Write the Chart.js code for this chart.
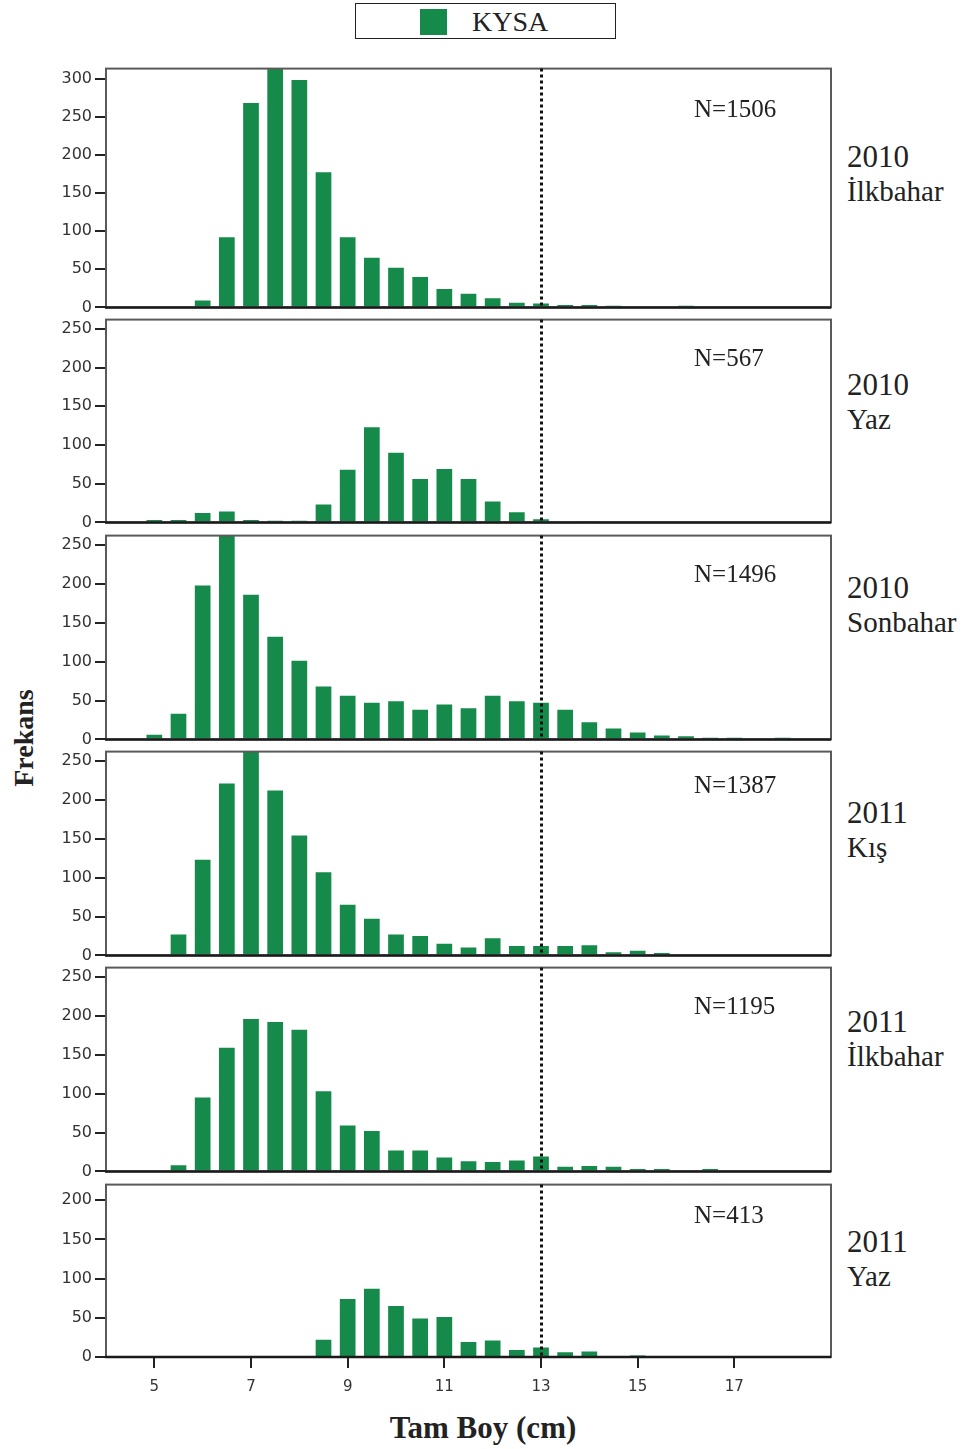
<!DOCTYPE html>
<html>
<head>
<meta charset="utf-8">
<title>KYSA boy frekansları</title>
<script src="https://cdn.jsdelivr.net/npm/chart.js@4.4.1/dist/chart.umd.min.js"></script>
<style>
  body { margin: 0; background: #fff; }
  #page { position: relative; width: 961px; height: 1449px; font-family: "Liberation Serif", "Times New Roman", serif; color: #222; }
  #page canvas { position: absolute; left: 0; }
  .legend { position: absolute; left: 355px; top: 3px; width: 259px; height: 34px; border: 1.5px solid #222; }
  .legend .swatch { position: absolute; left: 64px; top: 5px; width: 27px; height: 26px; background: rgb(22, 138, 74); }
  .legend .label { position: absolute; left: 116px; top: 0; line-height: 36px; font-size: 28px; }
  .season { position: absolute; left: 847px; font-size: 29px; line-height: 34px; }
  .season .year { font-size: 31px; }
  .ytitle { position: absolute; left: 24px; top: 738px; transform: translate(-50%, -50%) rotate(-90deg); font-weight: bold; font-size: 28px; white-space: nowrap; }
  .xtitle { position: absolute; left: 483px; top: 1428px; transform: translate(-50%, -50%); font-weight: bold; font-size: 31px; white-space: nowrap; }
</style>
</head>
<body>
<div id="page">
  <div class="legend"><div class="swatch"></div><div class="label">KYSA</div></div>
  <div class="ytitle">Frekans</div>
  <div class="xtitle">Tam Boy (cm)</div>
</div>
<script>
// length classes (cm), bar centres
const lengthBins = [5, 5.5, 6, 6.5, 7, 7.5, 8, 8.5, 9, 9.5, 10, 10.5, 11, 11.5, 12, 12.5, 13, 13.5, 14, 14.5, 15, 15.5, 16, 16.5, 17, 17.5, 18];

// frequencies per length class, one array per season
const spring2010 = [0, 0, 9, 92, 268, 330, 298, 177, 92, 65, 52, 40, 24, 18, 12, 6, 5, 3, 3, 2, 0, 0, 2, 0, 0, 0, 0];
const summer2010 = [3, 3, 12, 14, 3, 2, 2, 23, 68, 123, 90, 56, 69, 56, 27, 13, 4, 0, 1, 0, 0, 0, 0, 0, 0, 0, 0];
const autumn2010 = [6, 33, 198, 268, 186, 132, 101, 68, 56, 47, 49, 38, 45, 40, 56, 49, 47, 38, 22, 14, 9, 5, 4, 2, 2, 0, 2];
const winter2011 = [1, 27, 123, 221, 268, 212, 154, 107, 65, 47, 27, 25, 15, 10, 22, 12, 12, 12, 13, 4, 6, 3, 1, 0, 0, 1, 0];
const spring2011 = [0, 8, 95, 159, 196, 192, 182, 103, 59, 52, 27, 27, 18, 13, 12, 14, 19, 6, 7, 6, 3, 3, 0, 3, 0, 0, 0];
const summer2011 = [0, 0, 0, 0, 0, 0, 0, 22, 74, 87, 65, 49, 51, 19, 21, 9, 12, 6, 7, 0, 2, 0, 1, 1, 0, 0, 0];

const sampleSizes = [1506, 567, 1496, 1387, 1195, 413];
const seasonYears = ["2010", "2010", "2010", "2011", "2011", "2011"];
const seasonNames = ["İlkbahar", "Yaz", "Sonbahar", "Kış", "İlkbahar", "Yaz"];
const xTickValues = [5, 7, 9, 11, 13, 15, 17];
const yMaxima = [313, 262, 262, 262, 262, 220];
const lengthLimit = 13;

const seasonSeries = [spring2010, summer2010, autumn2010, winter2011, spring2011, summer2011];

// pixel boxes of the plot areas on the page
const panelBoxes = [
  { top: 68, bottom: 308, nOffset: 42, labelY: 157 },
  { top: 319, bottom: 523, nOffset: 40, labelY: 385 },
  { top: 535, bottom: 740, nOffset: 40, labelY: 588 },
  { top: 751, bottom: 956, nOffset: 35, labelY: 813 },
  { top: 967, bottom: 1172, nOffset: 40, labelY: 1022 },
  { top: 1184, bottom: 1357, nOffset: 32, labelY: 1242 },
];

const BAR_GREEN = "rgb(22, 138, 74)";
const PAD_TOP = 12;
const PLOT_LEFT = 106;
const PLOT_RIGHT = 831;
const CANVAS_W = 845;

// frame, zero line, dotted 13 cm marker and sample size
const panelDecor = {
  id: "panelDecor",
  afterDatasetsDraw(chart, args, opts) {
    const { ctx, chartArea: a, scales: { x, y } } = chart;
    ctx.save();
    ctx.strokeStyle = "#5a5a5a";
    ctx.lineWidth = 2;
    ctx.strokeRect(a.left, a.top, a.width, a.height);

    const y0 = y.getPixelForValue(0);
    ctx.strokeStyle = "#1a1a1a";
    ctx.lineWidth = 2.5;
    ctx.beginPath();
    ctx.moveTo(a.left - 1, y0);
    ctx.lineTo(a.right, y0);
    ctx.stroke();

    const lx = Math.round(x.getPixelForValue(lengthLimit)) + 0.5;
    ctx.strokeStyle = "#111";
    ctx.lineWidth = 3;
    ctx.setLineDash([3, 3]);
    ctx.beginPath();
    ctx.moveTo(lx, a.top);
    ctx.lineTo(lx, a.bottom);
    ctx.stroke();
    ctx.setLineDash([]);

    ctx.font = '25px "Liberation Serif", serif';
    ctx.fillStyle = "#222";
    ctx.textAlign = "left";
    ctx.textBaseline = "middle";
    ctx.fillText("N=" + opts.n, a.right - 137, a.top + opts.nOffset);
    ctx.restore();
  },
};

const page = document.getElementById("page");

seasonSeries.forEach((series, i) => {
  const box = panelBoxes[i];
  const isLast = i === seasonSeries.length - 1;
  const bottomRoom = isLast ? 45 : 12;
  const plotH = box.bottom - box.top;

  const canvas = document.createElement("canvas");
  canvas.width = CANVAS_W;
  canvas.height = plotH + PAD_TOP + bottomRoom;
  canvas.style.top = (box.top - PAD_TOP) + "px";
  page.appendChild(canvas);

  const label = document.createElement("div");
  label.className = "season";
  label.style.top = (box.labelY - 17) + "px";
  label.innerHTML = '<span class="year">' + seasonYears[i] + "</span><br>" + seasonNames[i];
  page.appendChild(label);

  new Chart(canvas.getContext("2d"), {
    type: "bar",
    data: {
      datasets: [{
        label: "KYSA",
        data: lengthBins.map((len, k) => ({ x: len, y: series[k] })),
        backgroundColor: BAR_GREEN,
        borderWidth: 0,
        barPercentage: 0.65,
        categoryPercentage: 1,
      }],
    },
    options: {
      responsive: false,
      animation: false,
      events: [],
      layout: { padding: { top: PAD_TOP, right: CANVAS_W - PLOT_RIGHT, bottom: isLast ? 0 : bottomRoom, left: 0 } },
      plugins: {
        legend: { display: false },
        tooltip: { enabled: false },
        panelDecor: { n: sampleSizes[i], nOffset: box.nOffset },
      },
      scales: {
        x: {
          type: "linear",
          min: 4,
          max: 19,
          offset: false,
          display: isLast,
          afterBuildTicks: (s) => { s.ticks = xTickValues.map((v) => ({ value: v })); },
          afterFit: (s) => { s.height = isLast ? bottomRoom : 0; },
          grid: { offset: false, drawOnChartArea: false, drawTicks: true, tickLength: 11, color: "#222", lineWidth: 2 },
          border: { display: true, color: "#1a1a1a", width: 2 },
          ticks: { font: { family: "DejaVu Sans", size: 15 }, color: "#333", padding: 10, maxRotation: 0 },
        },
        y: {
          min: 0,
          max: yMaxima[i],
          afterFit: (s) => { s.width = PLOT_LEFT; },
          grid: { drawOnChartArea: false, drawTicks: true, tickLength: 11, color: "#222", lineWidth: 2 },
          border: { display: true, color: "#333", width: 2 },
          ticks: { stepSize: 50, includeBounds: false, font: { family: "DejaVu Sans", size: 16 }, color: "#333", padding: 3 },
        },
      },
    },
    plugins: [panelDecor],
  });
});
</script>
</body>
</html>
